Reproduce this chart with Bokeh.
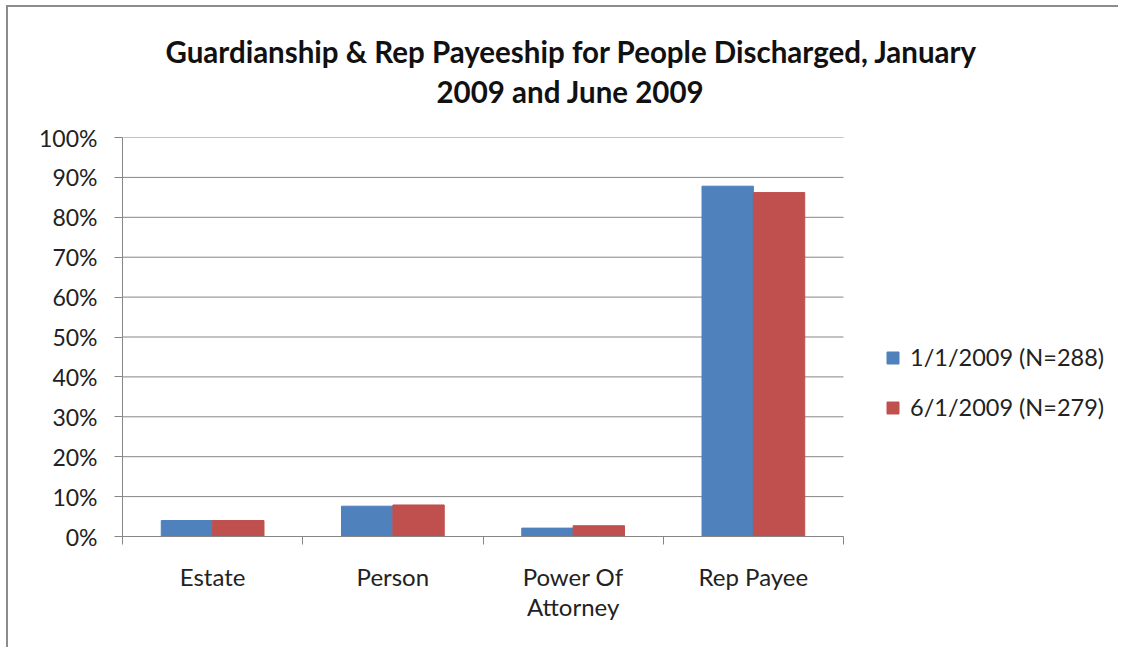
from bokeh.plotting import figure
from bokeh.models import (ColumnDataSource, Range1d, FixedTicker, NumeralTickFormatter,
                          Title, Legend, LegendItem)
from bokeh.transform import dodge
from bokeh.embed import file_html
from bokeh.resources import INLINE

categories = ["Estate", "Person", "Power Of\nAttorney", "Rep Payee"]
series_names = ["1/1/2009 (N=288)", "6/1/2009 (N=279)"]
jan_values = [0.040, 0.076, 0.021, 0.878]
jun_values = [0.040, 0.079, 0.027, 0.862]
y_ticks = [0.0, 0.1, 0.2, 0.3, 0.4, 0.5, 0.6, 0.7, 0.8, 0.9, 1.0]
title_lines = ["Guardianship & Rep Payeeship for People Discharged, January",
               "2009 and June 2009"]

BLUE = "#4F81BD"
RED = "#C0504D"
GRID = "#868686"
FONT = "Lato"

n = len(categories)
pos = [i + 0.5 for i in range(n)]
src = ColumnDataSource(dict(pos=pos, jan=jan_values, jun=jun_values, cat=categories))

W, H = 1112, 642
LEFT, PLOT_W = 114, 721          # plot area of the categories, px
frame_w = W - LEFT                # frame extends to the right edge to host the legend
x_end = n * frame_w / PLOT_W

p = figure(width=W, height=H, output_backend="svg", toolbar_location=None,
           x_range=Range1d(0, x_end), y_range=Range1d(0, 1),
           min_border_left=LEFT, min_border_top=130, min_border_bottom=113,
           min_border_right=0)
p.styles = {"border-left": "2px solid #8c8c8c", "border-top": "2px solid #8c8c8c",
            "margin-left": "6px", "margin-top": "5px"}
p.outline_line_color = None
p.background_fill_color = "white"
p.border_fill_color = "white"

# horizontal gridlines over the category area only
p.xgrid.visible = False
p.ygrid.visible = False
p.segment(x0=0, x1=n, y0=y_ticks, y1=y_ticks, line_color=GRID, line_width=1)

bw = 0.285
r1 = p.vbar(x=dodge("pos", -bw / 2, range=p.x_range), top="jan", width=bw, bottom=0,
            source=src, fill_color=BLUE, line_color=BLUE)
r2 = p.vbar(x=dodge("pos", bw / 2, range=p.x_range), top="jun", width=bw, bottom=0,
            source=src, fill_color=RED, line_color=RED)

ya = p.yaxis[0]
ya.ticker = FixedTicker(ticks=y_ticks)
ya.formatter = NumeralTickFormatter(format="0%")
ya.axis_line_color = GRID
ya.major_tick_line_color = GRID
ya.major_tick_in = 0
ya.major_tick_out = 8
ya.minor_tick_line_color = None
ya.major_label_standoff = 17
ya.major_label_text_font = FONT
ya.major_label_text_font_size = "23px"
ya.major_label_text_color = "#222222"

xa = p.xaxis[0]
xa.bounds = (0, n)
xa.ticker = FixedTicker(ticks=pos, minor_ticks=list(range(n + 1)))
xa.major_label_overrides = {pos[i]: categories[i] for i in range(n)}
xa.axis_line_color = GRID
xa.major_tick_line_color = None
xa.major_tick_out = 0
xa.major_tick_in = 0
xa.minor_tick_line_color = GRID
xa.minor_tick_out = 8
xa.minor_tick_in = 0
xa.major_label_standoff = 17
xa.major_label_text_font = FONT
xa.major_label_text_font_size = "24px"
xa.major_label_text_line_height = 1.05
xa.major_label_text_color = "#222222"

# title: white spacer nearest the frame, then line 2, then line 1
spacer = Title(text=".", align="left", standoff=18, text_font=FONT,
               text_font_size="10px", text_color="white")
t2 = Title(text=title_lines[1], align="left", offset=314, standoff=3,
           text_font=FONT, text_font_style="bold", text_font_size="29.5px",
           text_color="#111111")
t1 = Title(text=title_lines[0], align="left", offset=43, standoff=3,
           text_font=FONT, text_font_style="bold", text_font_size="29.5px",
           text_color="#111111")
p.add_layout(spacer, "above")
p.add_layout(t2, "above")
p.add_layout(t1, "above")

legend = Legend(items=[LegendItem(label=series_names[0], renderers=[r1]),
                       LegendItem(label=series_names[1], renderers=[r2])],
                location=(763, 115), orientation="vertical", margin=0, padding=10,
                glyph_width=15, glyph_height=15, spacing=22, label_standoff=10,
                label_text_font=FONT, label_text_font_size="23.5px", label_text_color="#222222",
                border_line_color=None, background_fill_alpha=0)
p.add_layout(legend, "center")

open("out.html", "w").write(file_html(p, INLINE))
